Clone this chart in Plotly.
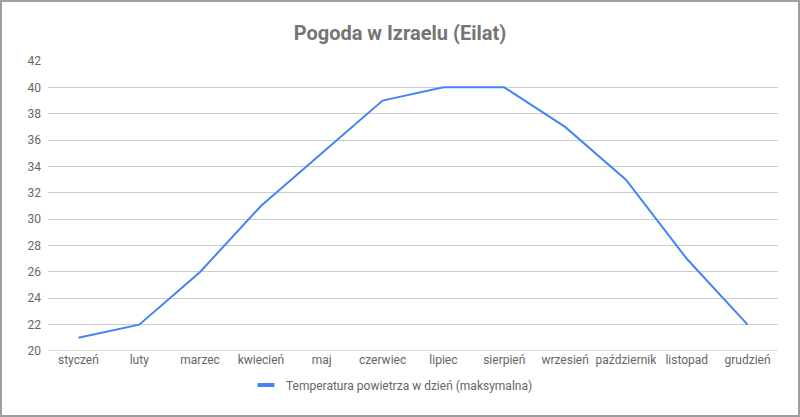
import plotly.graph_objects as go

months = ["styczeń", "luty", "marzec", "kwiecień", "maj", "czerwiec", "lipiec",
          "sierpień", "wrzesień", "październik", "listopad", "grudzień"]
temp_max = [21, 22, 26, 31, 35, 39, 40, 40, 37, 33, 27, 22]
y_ticks = list(range(20, 43, 2))
series_name = "Temperatura powietrza w dzień (maksymalna)"
blue = "#4285F4"

W, H = 800, 417
ml, mr, mt, mb = 48, 22, 61, 66
pw, ph = W - ml - mr, H - mt - mb

fig = go.Figure()
fig.add_trace(go.Scatter(
    x=months, y=temp_max, mode="lines", name=series_name,
    line=dict(color=blue, width=2), legendgroup="t", showlegend=False,
))
# legend entry with a short thick bar symbol
fig.add_trace(go.Scatter(
    x=[None], y=[None], mode="markers", name=series_name, legendgroup="t",
    marker=dict(symbol="line-ew", size=12, color=blue, line=dict(color=blue, width=4)),
))

fig.update_layout(
    width=W, height=H,
    margin=dict(l=ml, r=mr, t=mt, b=mb),
    paper_bgcolor="white", plot_bgcolor="white",
    font=dict(family="Roboto, Arial, sans-serif", size=12, color="#616161"),
    title=dict(text="<b>Pogoda w Izraelu (Eilat)</b>", x=0.5, xanchor="center",
               y=1 - 33 / H, yanchor="middle",
               font=dict(size=20, color="#757575", family="Roboto, Arial, sans-serif")),
    xaxis=dict(type="category", range=[-0.5, 11.5], showgrid=False, zeroline=False,
               showline=False, ticks="", tickfont=dict(size=12, color="#666666")),
    yaxis=dict(range=[20, 42], tickvals=y_ticks, showgrid=True, gridcolor="#cccccc",
               gridwidth=1, zeroline=False, showline=False, ticks="",
               tickfont=dict(size=12, color="#666666"), ticklabelstandoff=6),
    showlegend=True,
    legend=dict(orientation="h", x=(392 - ml) / pw, xanchor="center", y=-(385 - 351) / ph,
                yanchor="middle", font=dict(size=12, color="#666666"), itemwidth=30),
    shapes=[dict(type="rect", xref="paper", yref="paper",
                 x0=(-ml + 1) / pw, x1=(W - ml - 1) / pw,
                 y0=-(mb - 1) / ph, y1=(ph + mt - 1) / ph,
                 line=dict(color="#9e9e9e", width=2), fillcolor="rgba(0,0,0,0)",
                 layer="above")],
)
fig.add_hline(y=20, line=dict(color="#bdbdbd", width=1), layer="below")

fig.write_html("out.html", config={"displayModeBar": False},
               post_script="document.body.style.margin='0';document.body.style.overflow='hidden';")
